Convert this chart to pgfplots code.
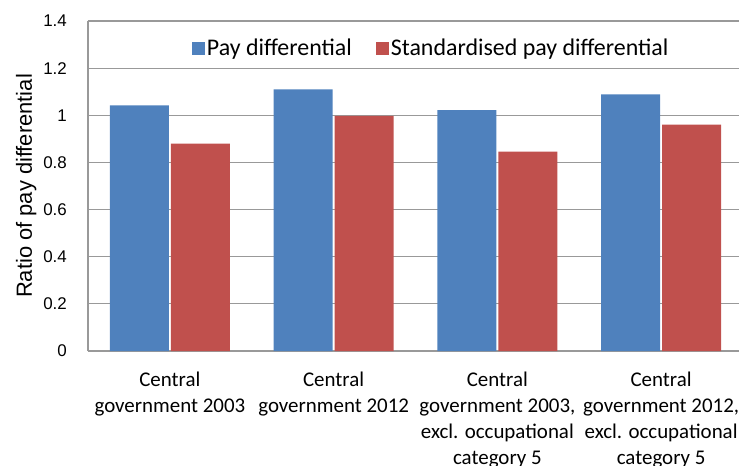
\documentclass[border=0pt]{standalone}
\usepackage{pgfplots}
\pgfplotsset{compat=1.18}
\usepackage{fontspec}
\setmainfont{Carlito}
\newfontfamily\arialf{Liberation Sans}
\newfontfamily\calf{Carlito}
\definecolor{barblue}{HTML}{4F81BD}
\definecolor{barred}{HTML}{C0504D}
\definecolor{gridgray}{HTML}{999999}
\begin{document}
\begin{tikzpicture}
\path[use as bounding box] (-88bp,-115bp) rectangle (651bp,351bp);
\begin{axis}[
  at={(0,0)}, anchor=south west,
  scale only axis,
  width=655bp, height=330bp,
  ybar, bar width=0.36,
  xmin=-0.5, xmax=3.5,
  ymin=0, ymax=1.4,
  ytick={0,0.2,0.4,0.6,0.8,1,1.2,1.4},
  xtick={0,1,2,3},
  xticklabels={{Central\\government 2003},{Central\\government 2012},{Central\\government 2003,\\excl. occupational\\category 5},{Central\\government 2012,\\excl. occupational\\category 5}},
  major tick length=0pt,
  ymajorgrids,
  grid style={gridgray, line width=1.1bp},
  axis x line*=bottom, axis y line*=left,
  axis line style={gridgray, line width=1.1bp},
  /pgf/number format/assume math mode=true,
  yticklabel style={font=\arialf\fontsize{17}{20}\selectfont, inner sep=0pt, anchor=east, xshift=-21bp},
  xticklabel style={font=\calf\fontsize{21}{26}\selectfont, align=center, inner sep=0pt, anchor=north, yshift=-21bp},
  ylabel={Ratio of pay differential},
  every axis y label/.style={at={([xshift=-56bp]axis description cs:0,0.5)}, rotate=90, anchor=base, font=\arialf\fontsize{22}{26}\selectfont},
  legend columns=2,
  legend style={at={(0.524,0.918)}, anchor=center, draw=none, fill=none, font=\calf\fontsize{24}{27}\selectfont,
    /tikz/every even column/.append style={column sep=22bp}},
  legend image code/.code={\fill[#1,draw=none] (0bp,-6.5bp) rectangle (13bp,6.5bp);},
]
\addplot[fill=barblue, draw=none] coordinates {(0,1.042) (1,1.11) (2,1.022) (3,1.089)};
\addplot[fill=barred, draw=none] coordinates {(0,0.88) (1,0.998) (2,0.846) (3,0.96)};
\legend{Pay differential, Standardised pay differential}
\end{axis}
\end{tikzpicture}
\end{document}
